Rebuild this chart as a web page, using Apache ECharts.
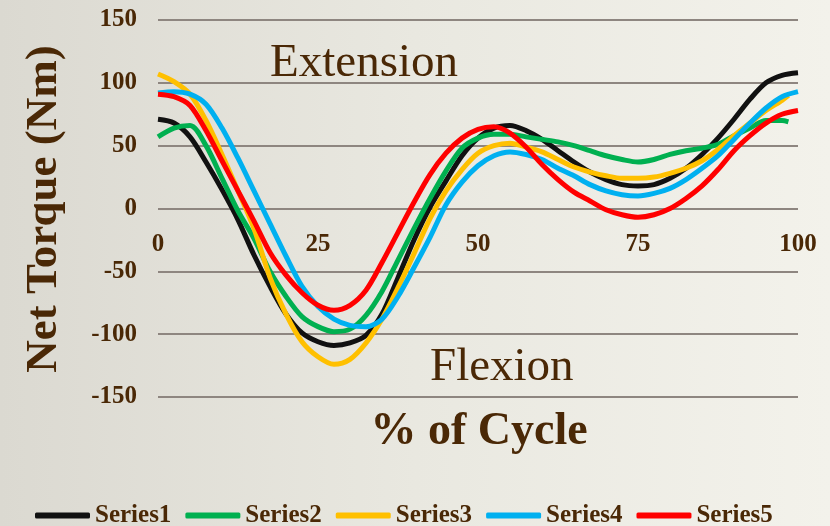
<!DOCTYPE html>
<html lang="en">
<head>
    <meta charset="UTF-8">
    <title>Net Torque</title>
    <style>
        html, body { margin: 0; padding: 0; }
    </style>
</head>
<body>
    <div id="chart" style="width: 830px;height:526px;"></div>
    <script src="https://cdn.jsdelivr.net/npm/echarts@6/dist/echarts.min.js"></script>
    <script type="text/javascript">
       // % of cycle, read every 2.5%
       var pct = [0, 2.5, 5, 7.5, 10, 12.5, 15, 17.5, 20, 22.5, 25, 27.5, 30, 32.5, 35, 37.5, 40, 42.5, 45, 47.5,
                  50, 52.5, 55, 57.5, 60, 62.5, 65, 67.5, 70, 72.5, 75, 77.5, 80, 82.5, 85, 87.5, 90, 92.5, 95, 97.5, 100];
       // where each curve stops (green and yellow stop just short of 100)
       var endPct = [100, 98.5, 98.5, 100, 100];
       var seriesNames = ['Series1', 'Series2', 'Series3', 'Series4', 'Series5'];
       var series1 = [71, 68, 57, 37, 15, -9, -37, -62, -84, -99, -106, -109, -107, -101, -84, -55, -25, 1, 22, 42,
                      56, 64, 66, 62, 55, 46, 37, 29, 23, 19, 18, 19, 24, 32, 43, 56, 71, 87, 100, 106, 108];
       var series2 = [57, 64, 66, 50, 24, -2, -24, -50, -70, -86, -94, -98, -96, -85, -66, -41, -16, 8, 30, 48,
                      56, 59, 59, 57, 55, 53, 50, 46, 42, 39, 37, 39, 43, 46, 48, 51, 58, 64, 70, 70, 69];
       var series3 = [107, 101, 91, 70, 43, 14, -16, -55, -84, -106, -118, -124, -120, -107, -88, -63, -36, -8, 14, 31,
                      44, 50, 52, 49, 45, 39, 33, 29, 26, 24, 24, 25, 28, 32, 38, 47, 58, 68, 78, 86, 90];
       var series4 = [92, 93, 91, 83, 64, 40, 14, -12, -38, -62, -78, -88, -93, -94, -88, -70, -47, -23, 3, 21,
                      34, 42, 45, 43, 39, 32, 26, 19, 14, 11, 10, 12, 16, 23, 32, 42, 55, 68, 80, 89, 93];
       var series5 = [91, 89, 82, 62, 38, 14, -10, -35, -53, -67, -77, -81, -77, -65, -43, -19, 5, 27, 44, 56,
                      63, 65, 60, 49, 35, 23, 13, 6, -1, -5, -7, -5, 0, 8, 18, 31, 46, 58, 68, 75, 78];
       var yTicks = [-150, -100, -50, 0, 50, 100, 150];
       var xTicks = [0, 25, 50, 75, 100];

       var colors = ['#111111', '#00b050', '#ffc000', '#00b0f0', '#ff0000'];
       var brown = '#4a2806';
       var serif = '"Liberation Serif", "DejaVu Serif", serif';

       var allData = [series1, series2, series3, series4, series5];
       var toPairs = function (vals, end) {
           var res = [];
           for (var i = 0; i < vals.length; i++) {
               var x = (i === vals.length - 1) ? end : pct[i];
               res.push([x, vals[i]]);
           }
           return res;
       };

       var chart = echarts.init(document.getElementById('chart'));
       var option = {
           backgroundColor: {
               type: 'linear', x: 0, y: 0, x2: 1, y2: 0,
               colorStops: [
                   {offset: 0, color: '#dbd9d1'},
                   {offset: 0.5, color: '#e9e8e0'},
                   {offset: 1, color: '#f3f2eb'}
               ]
           },
           animation: false,
           color: colors,
           grid: {left: 158, right: 32, top: 20, bottom: 129},
           legend: {
               data: seriesNames,
               left: 30,
               top: 498,
               icon: 'roundRect',
               itemWidth: 55,
               itemHeight: 6,
               itemGap: 14,
               textStyle: {color: brown, fontFamily: serif, fontWeight: 'bold', fontSize: 25}
           },
           xAxis: {
               type: 'value',
               min: xTicks[0],
               max: xTicks[xTicks.length - 1],
               interval: 25,
               // labels sit just under the zero line, not at the bottom of the grid
               offset: -187,
               axisLine: {show: false, onZero: false},
               axisTick: {show: false},
               splitLine: {show: false},
               axisLabel: {
                   margin: 22,
                   color: brown,
                   fontFamily: serif,
                   fontWeight: 'bold',
                   fontSize: 25
               }
           },
           yAxis: {
               type: 'value',
               min: yTicks[0],
               max: yTicks[yTicks.length - 1],
               interval: 50,
               axisLine: {show: false},
               axisTick: {show: false},
               splitLine: {lineStyle: {color: '#8e8680', width: 2}},
               axisLabel: {
                   margin: 21,
                   color: brown,
                   fontFamily: serif,
                   fontWeight: 'bold',
                   fontSize: 25
               }
           },
           graphic: [
               {
                   type: 'text', x: 44, y: 209, rotation: Math.PI / 2,
                   style: {text: 'Net Torque (Nm)', fill: brown, font: 'bold 45px ' + serif, align: 'center', verticalAlign: 'middle'}
               },
               {
                   type: 'text', x: 479, y: 432,
                   style: {text: '% of Cycle', fill: brown, font: 'bold 46px ' + serif, align: 'center', verticalAlign: 'middle'}
               },
               {
                   type: 'text', x: 270, y: 64,
                   style: {text: 'Extension', fill: brown, font: '47px ' + serif, align: 'left', verticalAlign: 'middle'}
               },
               {
                   type: 'text', x: 430, y: 368,
                   style: {text: 'Flexion', fill: brown, font: '47px ' + serif, align: 'left', verticalAlign: 'middle'}
               }
           ],
           series: allData.map(function (vals, i) {
               return {
                   name: seriesNames[i],
                   type: 'line',
                   smooth: 0.3,
                   showSymbol: false,
                   lineStyle: {width: 5, color: colors[i]},
                   data: toPairs(vals, endPct[i])
               };
           })
       };
       chart.setOption(option);
    </script>
</body>
</html>
